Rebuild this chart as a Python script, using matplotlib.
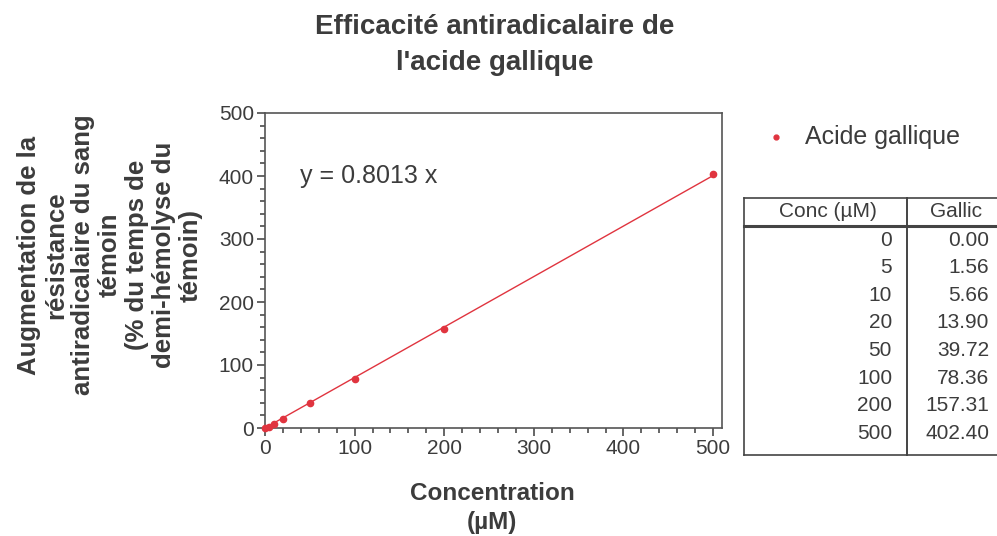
import matplotlib
matplotlib.use("Agg")
import matplotlib.pyplot as plt
from matplotlib.ticker import MultipleLocator
from matplotlib.lines import Line2D

plt.rcParams['font.family'] = ['Liberation Sans', 'DejaVu Sans']

conc = [0, 5, 10, 20, 50, 100, 200, 500]
gallic = [0.00, 1.56, 5.66, 13.90, 39.72, 78.36, 157.31, 402.40]
slope = 0.8013
conc_labels = ["0", "5", "10", "20", "50", "100", "200", "500"]
gallic_labels = ["0.00", "1.56", "5.66", "13.90", "39.72", "78.36", "157.31", "402.40"]

TXT = "#3c3c3c"
RED = "#e0343f"
W, H = 997, 536

fig = plt.figure(figsize=(9.97, 5.36), dpi=100)
ax = fig.add_axes([265 / W, 1 - 428 / H, 457 / W, 315 / H])

fit_x = [0, 500]
ax.plot(fit_x, [slope * v for v in fit_x], color=RED, lw=1.0, zorder=2)
ax.plot(conc, gallic, 'o', color=RED, ms=4.5, zorder=3, clip_on=False)

ax.set_xlim(0, 510)
ax.set_ylim(0, 500)
ax.xaxis.set_major_locator(MultipleLocator(100))
ax.xaxis.set_minor_locator(MultipleLocator(20))
ax.yaxis.set_major_locator(MultipleLocator(100))
ax.yaxis.set_minor_locator(MultipleLocator(20))
ax.tick_params(which='major', length=6, width=1.1, color=TXT, labelsize=15, labelcolor=TXT, pad=2)
ax.tick_params(which='minor', length=3.5, width=1.1, color=TXT)
for s in ax.spines.values():
    s.set_color("#555555")
    s.set_linewidth(1.2)

ax.text(39, 400, "y = 0.8013 x", fontsize=18, color=TXT, va='center', ha='left')

fig.text(492 / W, 1 - 493 / H, "Concentration", ha='center', va='center',
         fontsize=17.5, fontweight='bold', color=TXT)
fig.text(492 / W, 1 - 522 / H, "(µM)", ha='center', va='center',
         fontsize=17.5, fontweight='bold', color=TXT)

fig.text(110 / W, 1 - 255 / H,
         "Augmentation de la\nrésistance\nantiradicalaire du sang\ntémoin\n(% du temps de\ndemi-hémolyse du\ntémoin)",
         rotation=90, ha='center', va='center', multialignment='center',
         fontsize=18.5, fontweight='bold', color=TXT, linespacing=1.15)

fig.text(495 / W, 1 - 27 / H, "Efficacité antiradicalaire de",
         ha='center', va='center', fontsize=20, fontweight='bold', color=TXT)
fig.text(495 / W, 1 - 63 / H, "l'acide gallique",
         ha='center', va='center', fontsize=20, fontweight='bold', color=TXT)

# legend
fig.add_artist(Line2D([776 / W], [1 - 137 / H], marker='o', color=RED, ms=3.5, lw=0,
                      transform=fig.transFigure))
fig.text(805 / W, 1 - 137 / H, "Acide gallique", fontsize=18, color=TXT, va='center', ha='left')

# table
def hline(y, x0, x1, lw):
    fig.add_artist(Line2D([x0 / W, x1 / W], [1 - y / H, 1 - y / H], color="#444444", lw=lw,
                          transform=fig.transFigure))

def vline(x, y0, y1, lw):
    fig.add_artist(Line2D([x / W, x / W], [1 - y0 / H, 1 - y1 / H], color="#444444", lw=lw,
                          transform=fig.transFigure))

hline(198, 744, 1000, 1.2)
hline(226, 744, 1000, 2.2)
hline(455, 744, 1000, 1.2)
vline(744, 198, 455, 1.2)
vline(907, 198, 455, 1.4)

fig.text(828 / W, 1 - 212 / H, "Conc (µM)", fontsize=15, color=TXT, ha='center', va='center')
fig.text(956 / W, 1 - 212 / H, "Gallic", fontsize=15, color=TXT, ha='center', va='center')
row_y0, row_dy = 240, 27.6
for i, (c, g) in enumerate(zip(conc_labels, gallic_labels)):
    y = row_y0 + i * row_dy
    fig.text(892 / W, 1 - y / H, c, fontsize=15, color=TXT, ha='right', va='center')
    fig.text(989 / W, 1 - y / H, g, fontsize=15, color=TXT, ha='right', va='center')

fig.savefig("out.png", dpi=100, facecolor='white')
